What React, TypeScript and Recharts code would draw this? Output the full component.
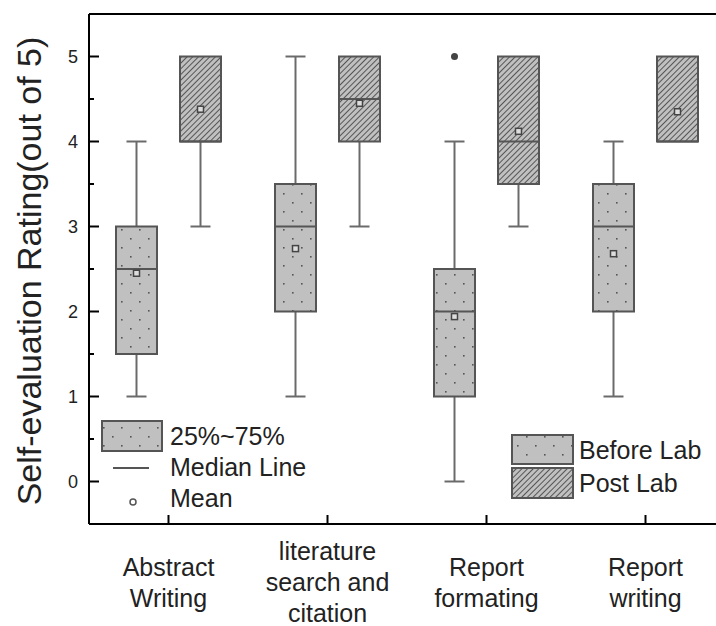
import { Bar, ComposedChart, ReferenceLine, XAxis, YAxis } from "recharts";

const categories = ["Abstract\nWriting", "literature\nsearch and\ncitation", "Report\nformating", "Report\nwriting"];

// before lab
const beforeMin = [1, 1, 0, 1];
const beforeQ1 = [1.5, 2, 1, 2];
const beforeMedian = [2.5, 3, 2, 3];
const beforeQ3 = [3, 3.5, 2.5, 3.5];
const beforeMax = [4, 5, 4, 4];
const beforeMean = [2.45, 2.74, 1.94, 2.68];
const beforeOutliers = [[], [], [5], []];

// post lab
const postMin = [3, 3, 3, 4];
const postQ1 = [4, 4, 3.5, 4];
const postMedian = [4, 4.5, 4, 4];
const postQ3 = [5, 5, 5, 5];
const postMax = [5, 5, 5, 5];
const postMean = [4.38, 4.45, 4.12, 4.35];
const postOutliers = [[], [], [], []];

const yTicks = [0, 0.5, 1, 1.5, 2, 2.5, 3, 3.5, 4, 4.5, 5];

const font = "'Liberation Sans', Arial, sans-serif";
const ink = "#222";
const boxStroke = "#555";

const data = categories.map((name, i) => ({
	name,
	before: {
		min: beforeMin[i],
		q1: beforeQ1[i],
		median: beforeMedian[i],
		q3: beforeQ3[i],
		max: beforeMax[i],
		mean: beforeMean[i],
		outliers: beforeOutliers[i],
	},
	post: {
		min: postMin[i],
		q1: postQ1[i],
		median: postMedian[i],
		q3: postQ3[i],
		max: postMax[i],
		mean: postMean[i],
		outliers: postOutliers[i],
	},
}));

function BoxShape(props: any) {
	const { x, y, width, height, stats, fill } = props;
	const top = Math.min(y, y + height);
	const bottom = Math.max(y, y + height);
	const s = stats;
	// linear map inside the bar's own [min, max] pixel range
	const px = (v: number) => bottom + ((v - s.min) / (s.max - s.min)) * (top - bottom);
	const cx = x + width / 2;
	const cap = 10;
	const wh = { stroke: "#6a6a6a", strokeWidth: 2 };
	return (
		<g>
			{s.max > s.q3 && (
				<g>
					<line x1={cx} x2={cx} y1={px(s.max)} y2={px(s.q3)} {...wh} />
					<line x1={cx - cap} x2={cx + cap} y1={px(s.max)} y2={px(s.max)} {...wh} />
				</g>
			)}
			{s.min < s.q1 && (
				<g>
					<line x1={cx} x2={cx} y1={px(s.q1)} y2={px(s.min)} {...wh} />
					<line x1={cx - cap} x2={cx + cap} y1={px(s.min)} y2={px(s.min)} {...wh} />
				</g>
			)}
			<rect
				x={x}
				y={px(s.q3)}
				width={width}
				height={px(s.q1) - px(s.q3)}
				fill={fill}
				stroke={boxStroke}
				strokeWidth={2}
			/>
			<line x1={x} x2={x + width} y1={px(s.median)} y2={px(s.median)} stroke={boxStroke} strokeWidth={2} />
			<rect x={cx - 3} y={px(s.mean) - 3} width={6} height={6} fill="#ddd" stroke="#444" strokeWidth={1.5} />
			{s.outliers.map((o: number, k: number) => (
				<circle key={k} cx={cx} cy={px(o)} r={3.5} fill="#444" />
			))}
		</g>
	);
}

function YTick(props: any) {
	const { x, y, payload } = props;
	const major = Number.isInteger(payload.value);
	return (
		<g>
			<line x1={x} x2={x + (major ? 10 : 5)} y1={y} y2={y} stroke="#000" strokeWidth={2} />
			{major && (
				<text x={x - 11} y={y} textAnchor="end" dominantBaseline="central" fontSize={18} fontFamily={font} fill={ink}>
					{payload.value}
				</text>
			)}
		</g>
	);
}

function XTick(props: any) {
	const { x, y, payload } = props;
	const lines = String(payload.value).split("\n");
	const n = lines.length;
	return (
		<g>
			<line x1={x} x2={x} y1={y} y2={y - 9} stroke="#000" strokeWidth={2} />
			{lines.map((t, i) => (
				<text
					key={i}
					x={x}
					y={y + 67 + (i - (n - 1) / 2) * 31}
					textAnchor="middle"
					fontSize={25}
					fontFamily={font}
					fill={ink}
				>
					{t}
				</text>
			))}
		</g>
	);
}

function Overlay() {
	return (
		<svg
			width={716}
			height={626}
			style={{ position: "absolute", left: 0, top: 0, pointerEvents: "none" }}
			fontFamily={font}
		>
			<defs>
				<pattern id="dots" patternUnits="userSpaceOnUse" width={18} height={18}>
					<rect width={18} height={18} fill="#c0c0c0" />
					<rect x={4} y={4} width={1.6} height={1.6} fill="#555" />
					<rect x={13} y={13} width={1.6} height={1.6} fill="#555" />
				</pattern>
				<pattern id="hatch" patternUnits="userSpaceOnUse" width={4} height={4} patternTransform="rotate(45)">
					<rect width={4} height={4} fill="#c0c0c0" />
					<line x1={0.5} y1={0} x2={0.5} y2={4} stroke="#555" strokeWidth={1} />
				</pattern>
			</defs>

			<text
				x={41}
				y={271}
				transform="rotate(-90 41 271)"
				textAnchor="middle"
				fontSize={34}
				fill={ink}
			>
				Self-evaluation Rating(out of 5)
			</text>

			{/* box legend */}
			<rect x={102} y={421} width={60} height={30} fill="url(#dots)" stroke={boxStroke} strokeWidth={2} />
			<text x={170} y={436} dominantBaseline="central" fontSize={25} fill={ink}>
				25%~75%
			</text>
			<line x1={113} x2={149} y1={468} y2={468} stroke={boxStroke} strokeWidth={2} />
			<text x={170} y={467} dominantBaseline="central" fontSize={25} fill={ink}>
				Median Line
			</text>
			<circle cx={133} cy={502} r={3} fill="#fff" stroke={boxStroke} strokeWidth={1.5} />
			<text x={170} y={498} dominantBaseline="central" fontSize={25} fill={ink}>
				Mean
			</text>

			{/* group legend */}
			<rect x={512} y={435} width={61} height={29} fill="url(#dots)" stroke={boxStroke} strokeWidth={2} />
			<text x={579} y={450} dominantBaseline="central" fontSize={25} fill={ink}>
				Before Lab
			</text>
			<rect x={512} y={468} width={61} height={30} fill="url(#hatch)" stroke={boxStroke} strokeWidth={2} />
			<text x={579} y={483} dominantBaseline="central" fontSize={25} fill={ink}>
				Post Lab
			</text>
		</svg>
	);
}

export default function App() {
	return (
		<div
			style={{
				position: "absolute",
				left: 0,
				top: 0,
				width: 716,
				height: 626,
				overflow: "hidden",
				background: "#fff",
			}}
		>
			<ComposedChart width={740} height={626} data={data} margin={{ top: 14, right: 15, bottom: 0, left: 0 }} barGap={23}>
				<XAxis
					dataKey="name"
					type="category"
					height={102}
					interval={0}
					tickLine={false}
					tickSize={0}
					tickMargin={0}
					axisLine={{ stroke: "#000", strokeWidth: 2 }}
					tick={(p: any) => <XTick {...p} />}
				/>
				<YAxis
					type="number"
					domain={[-0.5, 5.5]}
					ticks={yTicks}
					interval={0}
					width={89}
					allowDataOverflow
					tickLine={false}
					tickSize={0}
					tickMargin={0}
					axisLine={{ stroke: "#000", strokeWidth: 2 }}
					tick={(p: any) => <YTick {...p} />}
				/>
				<ReferenceLine y={5.5} stroke="#000" strokeWidth={2} />
				<Bar
					dataKey={(d: any) => [d.before.min, d.before.max]}
					barSize={41}
					isAnimationActive={false}
					shape={(p: any) => <BoxShape {...p} stats={p.payload.before} fill="url(#dots)" />}
				/>
				<Bar
					dataKey={(d: any) => [d.post.min, d.post.max]}
					barSize={41}
					isAnimationActive={false}
					shape={(p: any) => <BoxShape {...p} stats={p.payload.post} fill="url(#hatch)" />}
				/>
			</ComposedChart>
			<Overlay />
		</div>
	);
}
